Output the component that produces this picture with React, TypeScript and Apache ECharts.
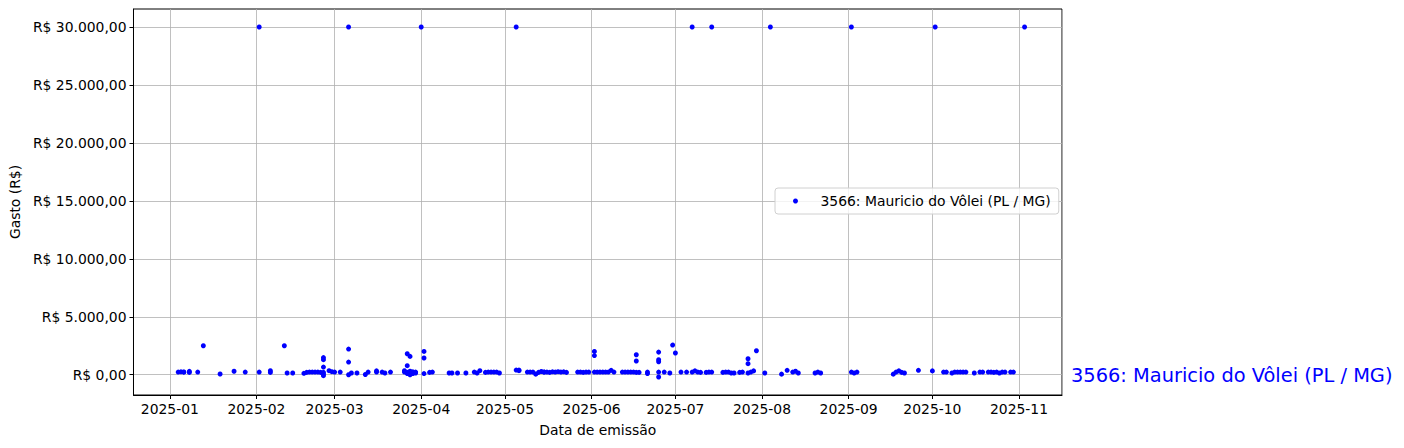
import React, { useEffect, useRef } from "react";
import * as echarts from "echarts";

const seriesName = "3566: Mauricio do Vôlei (PL / MG)";
const xAxisTitle = "Data de emissão";
const yAxisTitle = "Gasto (R$)";

const yTicks = [0, 5000, 10000, 15000, 20000, 25000, 30000];

// Large-value points (top row)
const topDates = [
  "2025-02-02", "2025-03-06", "2025-04-01", "2025-05-05", "2025-07-07",
  "2025-07-14", "2025-08-04", "2025-09-02", "2025-10-02", "2025-11-03",
];
const topValues = [30000, 30000, 30000, 30000, 30000, 30000, 30000, 30000, 30000, 30000];

// Everyday expenses
const dates = [
  "2025-01-04", "2025-01-05", "2025-01-06", "2025-01-06", "2025-01-08", "2025-01-08",
  "2025-01-11", "2025-01-13", "2025-01-19", "2025-01-24", "2025-01-28",
  "2025-02-02", "2025-02-06", "2025-02-06", "2025-02-11", "2025-02-12", "2025-02-14",
  "2025-02-18", "2025-02-19", "2025-02-20", "2025-02-21", "2025-02-22", "2025-02-23", "2025-02-24",
  "2025-02-25", "2025-02-25", "2025-02-25", "2025-02-25", "2025-02-25", "2025-02-25",
  "2025-02-27", "2025-02-28", "2025-03-01",
  "2025-03-03", "2025-03-06", "2025-03-06", "2025-03-06", "2025-03-07", "2025-03-09",
  "2025-03-12", "2025-03-13", "2025-03-16", "2025-03-16", "2025-03-18", "2025-03-19", "2025-03-21",
  "2025-03-26", "2025-03-26", "2025-03-27", "2025-03-27", "2025-03-27", "2025-03-27",
  "2025-03-28", "2025-03-28", "2025-03-28", "2025-03-28", "2025-03-29", "2025-03-29",
  "2025-03-30", "2025-03-30",
  "2025-04-02", "2025-04-02", "2025-04-02", "2025-04-04", "2025-04-05",
  "2025-04-11", "2025-04-12", "2025-04-14", "2025-04-17", "2025-04-20", "2025-04-21",
  "2025-04-22", "2025-04-24", "2025-04-25", "2025-04-26", "2025-04-27", "2025-04-28", "2025-04-29",
  "2025-05-05", "2025-05-06", "2025-05-06", "2025-05-09", "2025-05-10", "2025-05-11",
  "2025-05-12", "2025-05-13", "2025-05-14", "2025-05-15", "2025-05-15",
  "2025-05-16", "2025-05-17", "2025-05-18", "2025-05-19", "2025-05-20", "2025-05-21",
  "2025-05-22", "2025-05-23",
  "2025-05-27", "2025-05-28", "2025-05-29", "2025-05-30", "2025-05-31",
  "2025-06-02", "2025-06-02", "2025-06-02", "2025-06-03", "2025-06-04", "2025-06-05",
  "2025-06-06", "2025-06-07", "2025-06-08", "2025-06-09", "2025-06-12", "2025-06-13",
  "2025-06-14", "2025-06-15", "2025-06-16", "2025-06-17", "2025-06-17", "2025-06-17",
  "2025-06-18", "2025-06-21", "2025-06-21",
  "2025-06-25", "2025-06-25", "2025-06-25", "2025-06-25", "2025-06-25",
  "2025-06-27", "2025-06-29", "2025-06-30",
  "2025-07-01", "2025-07-03", "2025-07-05", "2025-07-07", "2025-07-08", "2025-07-09",
  "2025-07-10", "2025-07-12", "2025-07-13", "2025-07-14", "2025-07-18", "2025-07-19",
  "2025-07-20", "2025-07-21", "2025-07-22", "2025-07-24", "2025-07-25",
  "2025-07-27", "2025-07-27", "2025-07-27", "2025-07-28", "2025-07-29", "2025-07-30",
  "2025-08-02", "2025-08-08", "2025-08-10", "2025-08-12", "2025-08-13", "2025-08-14",
  "2025-08-20", "2025-08-21", "2025-08-22",
  "2025-09-02", "2025-09-03", "2025-09-04", "2025-09-17", "2025-09-18", "2025-09-19",
  "2025-09-20", "2025-09-21", "2025-09-26",
  "2025-10-01", "2025-10-05", "2025-10-06", "2025-10-08", "2025-10-09", "2025-10-10",
  "2025-10-11", "2025-10-12", "2025-10-13", "2025-10-16", "2025-10-18", "2025-10-19",
  "2025-10-21", "2025-10-22", "2025-10-23", "2025-10-24", "2025-10-25", "2025-10-26",
  "2025-10-27", "2025-10-29", "2025-10-30",
];
const values = [
  230, 250, 220, 240, 290, 200,
  230, 2500, 60, 300, 230,
  230, 350, 200, 2500, 150, 150,
  120, 200, 230, 230, 230, 230, 200,
  1480, 1300, 660, 200, 50, -80,
  350, 260, 230,
  230, 2210, 1090, 0, 150, 150,
  20, 230, 330, 230, 230, 150, 230,
  230, 350, 1810, 780, 200, 100,
  1580, 300, 150, 0, 250, 100,
  230, 150,
  2010, 1440, 100, 200, 230,
  150, 150, 150, 150, 230, 150,
  350, 200, 230, 230, 230, 230, 150,
  400, 350, 400, 230, 230, 230,
  50, 200, 280, 230, 230,
  230, 200, 250, 230, 260, 230,
  250, 200,
  230, 230, 200, 230, 230,
  2010, 1650, 230, 230, 230, 230,
  230, 230, 380, 230, 230, 230,
  230, 230, 230, 200, 1720, 1180,
  200, 230, 100,
  1950, 1290, 1120, 230, -200,
  230, 150, 2560,
  1870, 230, 230, 230, 330, 230,
  200, 200, 230, 230, 200, 230,
  230, 150, 150, 200, 230,
  1380, 950, 150, 230, 330, 2070,
  150, 50, 380, 230, 300, 150,
  150, 230, 150,
  230, 150, 230, 50, 230, 330,
  200, 150, 380,
  330, 230, 230, 150, 230, 230,
  230, 230, 230, 150, 230, 230,
  230, 230, 200, 230, 150, 230,
  230, 230, 230,
];

const FONT = "DejaVu Sans";

function brl(v: number): string {
  const s = Math.abs(v).toFixed(2);
  const [i, d] = s.split(".");
  const ii = i.replace(/\B(?=(\d{3})+(?!\d))/g, ".");
  return "R$ " + (v < 0 ? "-" : "") + ii + "," + d;
}

function ym(v: number): string {
  const d = new Date(v);
  return d.getFullYear() + "-" + String(d.getMonth() + 1).padStart(2, "0");
}

export default function App() {
  const ref = useRef<HTMLDivElement>(null);
  useEffect(() => {
    if (!ref.current) return;
    const chart = echarts.init(ref.current, undefined, { renderer: "svg" });
    const DAY = 86400000;
    const base = new Date(2025, 0, 1).getTime();
    const pts = [
      ...dates.map((d, i) => [d, values[i]]),
      ...topDates.map((d, i) => [d, topValues[i]]),
    ];
    chart.setOption({
      animation: false,
      backgroundColor: "#ffffff",
      textStyle: { fontFamily: FONT },
      grid: {
        left: 131,
        top: 9,
        right: 342,
        bottom: 53,
        show: true,
        borderColor: "#000000",
        borderWidth: 1,
        backgroundColor: "transparent",
      },
      legend: {
        data: [{ name: seriesName, icon: "circle" }],
        left: 775,
        top: 188,
        itemWidth: 40,
        itemHeight: 5,
        padding: [6, 8, 6, 18],
        borderColor: "#d0d0d0",
        borderWidth: 1,
        borderRadius: 3,
        backgroundColor: "rgba(255,255,255,0.8)",
        textStyle: { fontFamily: FONT, fontSize: 13.9, color: "#000000" },
      },
      xAxis: {
        type: "time",
        min: base - 13.0 * DAY,
        max: base + 319.4 * DAY,
        splitNumber: 11,
        minInterval: 28 * DAY,
        maxInterval: 31 * DAY,
        name: xAxisTitle,
        nameLocation: "middle",
        nameGap: 28,
        nameTextStyle: { fontFamily: FONT, fontSize: 13.9, color: "#000000" },
        axisLine: { show: true, onZero: false, lineStyle: { color: "#000000", width: 1 } },
        axisTick: { show: true, length: 4, lineStyle: { color: "#000000", width: 1 } },
        axisLabel: {
          margin: 7,
          fontFamily: FONT,
          fontSize: 13.9,
          color: "#000000",
          formatter: (v: number) => ym(v),
          showMinLabel: false,
          showMaxLabel: false,
          hideOverlap: false,
        },
        splitLine: { show: true, lineStyle: { color: "#b0b0b0", width: 0.8 } },
      },
      yAxis: {
        type: "value",
        min: -1750,
        max: 31550,
        name: yAxisTitle,
        nameLocation: "middle",
        nameGap: 107,
        nameRotate: 90,
        nameTextStyle: { fontFamily: FONT, fontSize: 13.9, color: "#000000" },
        axisLine: { show: true, lineStyle: { color: "#000000", width: 1 } },
        axisTick: {
          show: true,
          length: 4,
          customValues: yTicks,
          lineStyle: { color: "#000000", width: 1 },
        },
        axisLabel: {
          margin: 7,
          fontFamily: FONT,
          fontSize: 13.9,
          color: "#000000",
          customValues: yTicks,
          formatter: (v: number) => brl(v),
        },
        splitLine: { show: true, lineStyle: { color: "#b0b0b0", width: 0.8 } },
      },
      graphic: [
        {
          type: "text",
          x: 1071,
          y: 375,
          style: {
            text: seriesName,
            fill: "#0000ff",
            fontFamily: FONT,
            fontSize: 19.4,
            verticalAlign: "middle",
          },
        },
      ],
      series: [
        {
          name: seriesName,
          type: "scatter",
          symbol: "circle",
          symbolSize: 5,
          itemStyle: { color: "#0000ff", opacity: 1 },
          data: pts,
        },
      ],
    });
    return () => chart.dispose();
  }, []);
  return (
    <div
      ref={ref}
      style={{ position: "fixed", left: 0, top: 0, width: 1404, height: 448 }}
    />
  );
}
